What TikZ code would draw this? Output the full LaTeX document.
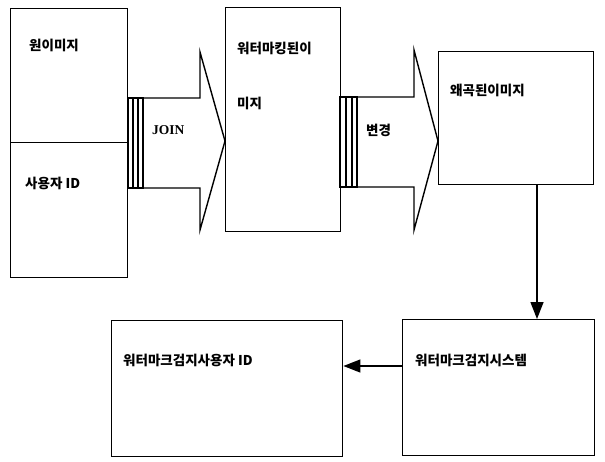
\documentclass[tikz,border=0pt]{standalone}
\usepackage{fontspec}
\setmainfont{Liberation Serif}
\newfontfamily\kr{Noto Sans CJK KR}
\usetikzlibrary{arrows.meta}
\begin{document}
\begin{tikzpicture}[x=1pt,y=-1pt,
  box/.style={draw, line width=1.4pt, inner sep=0pt, anchor=north west},
  lbl/.style={anchor=west, inner sep=0pt, font=\kr\bfseries\fontsize{13.5}{15}\selectfont},
  lat/.style={anchor=west, inner sep=0pt, font=\bfseries\fontsize{13.5}{15}\selectfont},
  blk/.style={draw, line width=1.4pt, line join=miter},
  bar/.style={draw, line width=1.1pt},
  conn/.style={draw, line width=1.4pt, -{Triangle[length=17pt,width=13pt]}}]
\useasboundingbox (0,0) rectangle (605,461);
\fill[white] (0,0) rectangle (605,461);
% boxes
\node[box, minimum width=117pt, minimum height=134pt] (orig) at (10,8) {};
\node[box, minimum width=117pt, minimum height=135pt] (uid) at (10,142) {};
\node[box, minimum width=115pt, minimum height=224pt] (wm) at (225,7) {};
\node[box, minimum width=155pt, minimum height=133pt] (dist) at (438,51) {};
\node[box, minimum width=192pt, minimum height=136pt] (det) at (402,319) {};
\node[box, minimum width=231pt, minimum height=136pt] (res) at (111,320) {};
% labels
\node[lbl] (t1) at (29,45) {원이미지};
\node[lbl] (t2) at (25,183) {사용자 ID};
\node[lbl] (t3) at (237,48) {워터마킹된이};
\node[lbl] (t4) at (237,103) {미지};
\node[lbl] (t5) at (450,90) {왜곡된이미지};
\node[lbl] (t6) at (415,360) {워터마크검지시스템};
\node[lbl] (t7) at (123,360) {워터마크검지사용자 ID};
% block arrow 1 (JOIN)
\draw[blk] (143,98) -- (200,98) -- (200,52) -- (225,141) -- (200,230) -- (200,188) -- (143,188) -- cycle;
\draw[bar] (128,98) rectangle (143,188);
\draw[bar] (133,98) -- (133,188);
\draw[bar] (138,98) -- (138,188);
\node[lat] (j) at (152,130) {JOIN};
% block arrow 2
\draw[blk] (357,97) -- (414,97) -- (414,50) -- (438,141) -- (414,230) -- (414,187) -- (357,187) -- cycle;
\draw[bar] (340,97) rectangle (357,187);
\draw[bar] (346,97) -- (346,187);
\draw[bar] (352,97) -- (352,187);
\node[lbl] (ch) at (366,130) {변경};
% connectors
\coordinate (vx) at (537,0);
\coordinate (hy) at (0,366);
\draw[conn] (dist.south -| vx) -- (det.north -| vx);
\draw[conn] (det.west |- hy) -- (res.east |- hy);
\end{tikzpicture}
\end{document}
